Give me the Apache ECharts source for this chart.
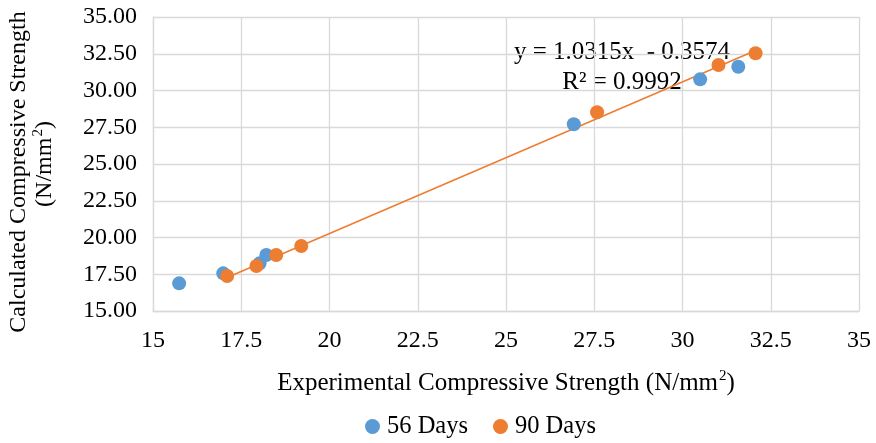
<!DOCTYPE html>
<html>
<head>
<meta charset="utf-8">
<script src="https://cdn.jsdelivr.net/npm/echarts@6/dist/echarts.min.js"></script>
<style>html,body{margin:0;padding:0;background:#fff;}#c{width:876px;height:443px;}</style>
</head>
<body>
<div id="c"></div>
<script>
// Data
var exp56 = [15.74, 16.99, 18.02, 18.21, 26.92, 30.50, 31.58];
var calc56 = [16.88, 17.56, 18.24, 18.81, 27.70, 30.76, 31.62];
var exp90 = [17.10, 17.93, 18.49, 19.20, 27.58, 31.02, 32.07];
var calc90 = [17.38, 18.06, 18.81, 19.42, 28.52, 31.73, 32.53];
var seriesNames = ['56 Days', '90 Days'];
var trendSlope = 1.0315;
var trendIntercept = -0.3574;
var equationText = 'y = 1.0315x  - 0.3574';
var r2Text = 'R² = 0.9992';
var xTitle = 'Experimental Compressive Strength (N/mm';
var yTitle1 = 'Calculated Compressive Strength';
var yTitle2 = '(N/mm';

function pairs(xs, ys) { return xs.map(function (x, i) { return [x, ys[i]]; }); }
var tx0 = Math.min.apply(null, exp90), tx1 = Math.max.apply(null, exp90);
var trend = [[tx0, trendSlope * tx0 + trendIntercept], [tx1, trendSlope * tx1 + trendIntercept]];

var FONT = 'Liberation Serif';
var FS = 24;
var FT = 25;
var gridColor = '#d9d9d9';
var chart = echarts.init(document.getElementById('c'));
function supRich(fs) {
  return {
    n: { fontFamily: FONT, fontSize: fs, color: '#000', lineHeight: 28 },
    s: { fontFamily: FONT, fontSize: 15, color: '#000', lineHeight: 28, verticalAlign: 'top', padding: [0, 0, 10, 1] }
  };
}
chart.setOption({
  animation: false,
  textStyle: { fontFamily: FONT },
  grid: { left: 153, right: 17, top: 17, bottom: 132 },
  xAxis: {
    type: 'value', min: 15, max: 35, interval: 2.5,
    axisLine: { show: true, lineStyle: { color: gridColor, width: 1.3 } },
    axisTick: { show: false },
    splitLine: { show: true, lineStyle: { color: gridColor, width: 1.3 } },
    axisLabel: { fontFamily: FONT, fontSize: FS, color: '#000', margin: 18,
      formatter: function (v) { return String(Math.round(v * 10) / 10); } }
  },
  yAxis: {
    type: 'value', min: 15, max: 35, interval: 2.5,
    axisLine: { show: true, lineStyle: { color: gridColor, width: 1.3 } },
    axisTick: { show: false },
    splitLine: { show: true, lineStyle: { color: gridColor, width: 1.3 } },
    axisLabel: { fontFamily: FONT, fontSize: FS, color: '#000', margin: 16,
      formatter: function (v) { return v.toFixed(2); } }
  },
  legend: {
    data: seriesNames, bottom: -1, left: 360,
    icon: 'circle', itemWidth: 15, itemHeight: 15, itemGap: 25,
    textStyle: { fontFamily: FONT, fontSize: 24.5, color: '#000', padding: [0, 0, 0, 2] }
  },
  graphic: [
    { type: 'text', x: 506, y: 383,
      style: { rich: supRich(FT), text: '{n|' + xTitle + '}{s|2}{n|)}', textAlign: 'center', textVerticalAlign: 'middle' } },
    { type: 'text', x: 19, y: 172, rotation: Math.PI / 2,
      style: { text: yTitle1, fontFamily: FONT, fontSize: FS, fill: '#000', textAlign: 'center', textVerticalAlign: 'middle' } },
    { type: 'text', x: 45, y: 164, rotation: Math.PI / 2,
      style: { rich: supRich(FS), text: '{n|' + yTitle2 + '}{s|2}{n|)}', textAlign: 'center', textVerticalAlign: 'middle' } },
    { type: 'text', x: 622, y: 52,
      style: { text: equationText, fontFamily: FONT, fontSize: FT, fill: '#000', textAlign: 'center', textVerticalAlign: 'middle' } },
    { type: 'text', x: 622, y: 82,
      style: { text: r2Text, fontFamily: FONT, fontSize: FT, fill: '#000', textAlign: 'center', textVerticalAlign: 'middle' } }
  ],
  series: [
    { name: seriesNames[0], type: 'scatter', data: pairs(exp56, calc56), symbolSize: 14, z: 3,
      itemStyle: { color: '#5B9BD5', opacity: 1 } },
    { name: seriesNames[1], type: 'scatter', data: pairs(exp90, calc90), symbolSize: 14, z: 4,
      itemStyle: { color: '#ED7D31', opacity: 1 } },
    { name: 'trend', type: 'line', data: trend, symbol: 'none', z: 2, silent: true,
      lineStyle: { color: '#ED7D31', width: 1.5 } }
  ]
});
</script>
</body>
</html>
